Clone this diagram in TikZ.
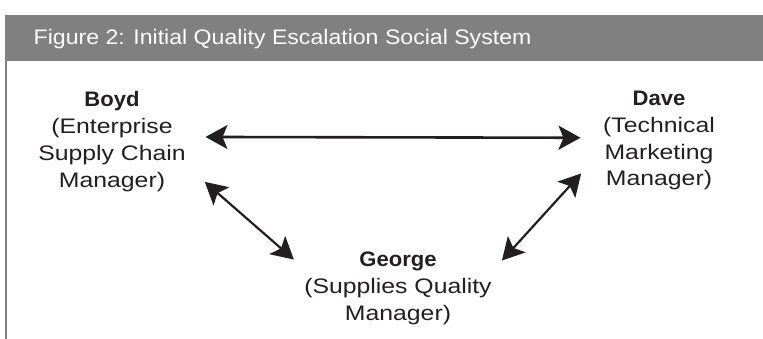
\documentclass[tikz,border=0pt]{standalone}
\usepackage{fontspec}
\setmainfont{Liberation Sans}
\newfontfamily\titlefont{Liberation Sans}[FakeStretch=1.1]
\newfontfamily\bodyfont{Liberation Sans}[FakeStretch=1.18]
\newfontface\namefont{Liberation Sans Bold}[FakeStretch=1.05]
\usetikzlibrary{arrows.meta}
\definecolor{framegray}{HTML}{808080}
\definecolor{ink}{HTML}{231F20}
% name in bold on the first line, role lines centred below it;
% the box's baseline is that of the first line
\newcommand\rolestack[2]{\vtop{\baselineskip=26.8pt
  \halign{\hfil\bodyfont##\hfil\cr{\namefont #1}\cr #2\crcr}}}
\tikzset{
  role/.style={anchor=base, inner sep=0pt, text=ink,
    font=\fontsize{21}{26.8}\selectfont},
  link/.style={{Stealth[length=22pt,width=24pt,inset=5pt]}-{Stealth[length=22pt,width=24pt,inset=5pt]},
    draw=ink, line width=2.2pt},
}
\begin{document}
\begin{tikzpicture}[x=1pt,y=-1pt]
\useasboundingbox (0,0) rectangle (763,339);
\fill[white] (0,0) rectangle (763,339);
% caption bar and left rule
\fill[framegray] (5,15) rectangle (763,61);
\draw[framegray, line width=2.5pt] (6,61) -- (6,339);
\node[anchor=base west, inner sep=0pt, text=white,
  font=\titlefont\fontsize{21}{25}\selectfont] (title) at (33.5,44.5)
  {Figure 2: Initial Quality Escalation Social System};
% the three people
\node[role] (boyd) at (112,106.7)
  {\rolestack{Boyd}{(Enterprise\cr Supply Chain\cr Manager)}};
\node[role] (dave) at (659,105.5)
  {\rolestack{Dave}{(Technical\cr Marketing\cr Manager)}};
\node[role] (george) at (398,266.7)
  {\rolestack{George}{(Supplies Quality\cr Manager)}};
% relations
\draw[link, line width=2.6pt] ([xshift=19.6pt,yshift=4.5pt]boyd.east)
  -- ([xshift=-22.5pt,yshift=2.9pt]dave.west);
\draw[link] ([xshift=18.9pt,yshift=9.8pt]boyd.south east)
  -- ([xshift=-10.3pt,yshift=-7.7pt]george.north west);
\draw[link] ([xshift=-21.85pt,yshift=17pt]dave.south west)
  -- ([xshift=10.1pt,yshift=-8.7pt]george.north east);
\end{tikzpicture}
\end{document}
